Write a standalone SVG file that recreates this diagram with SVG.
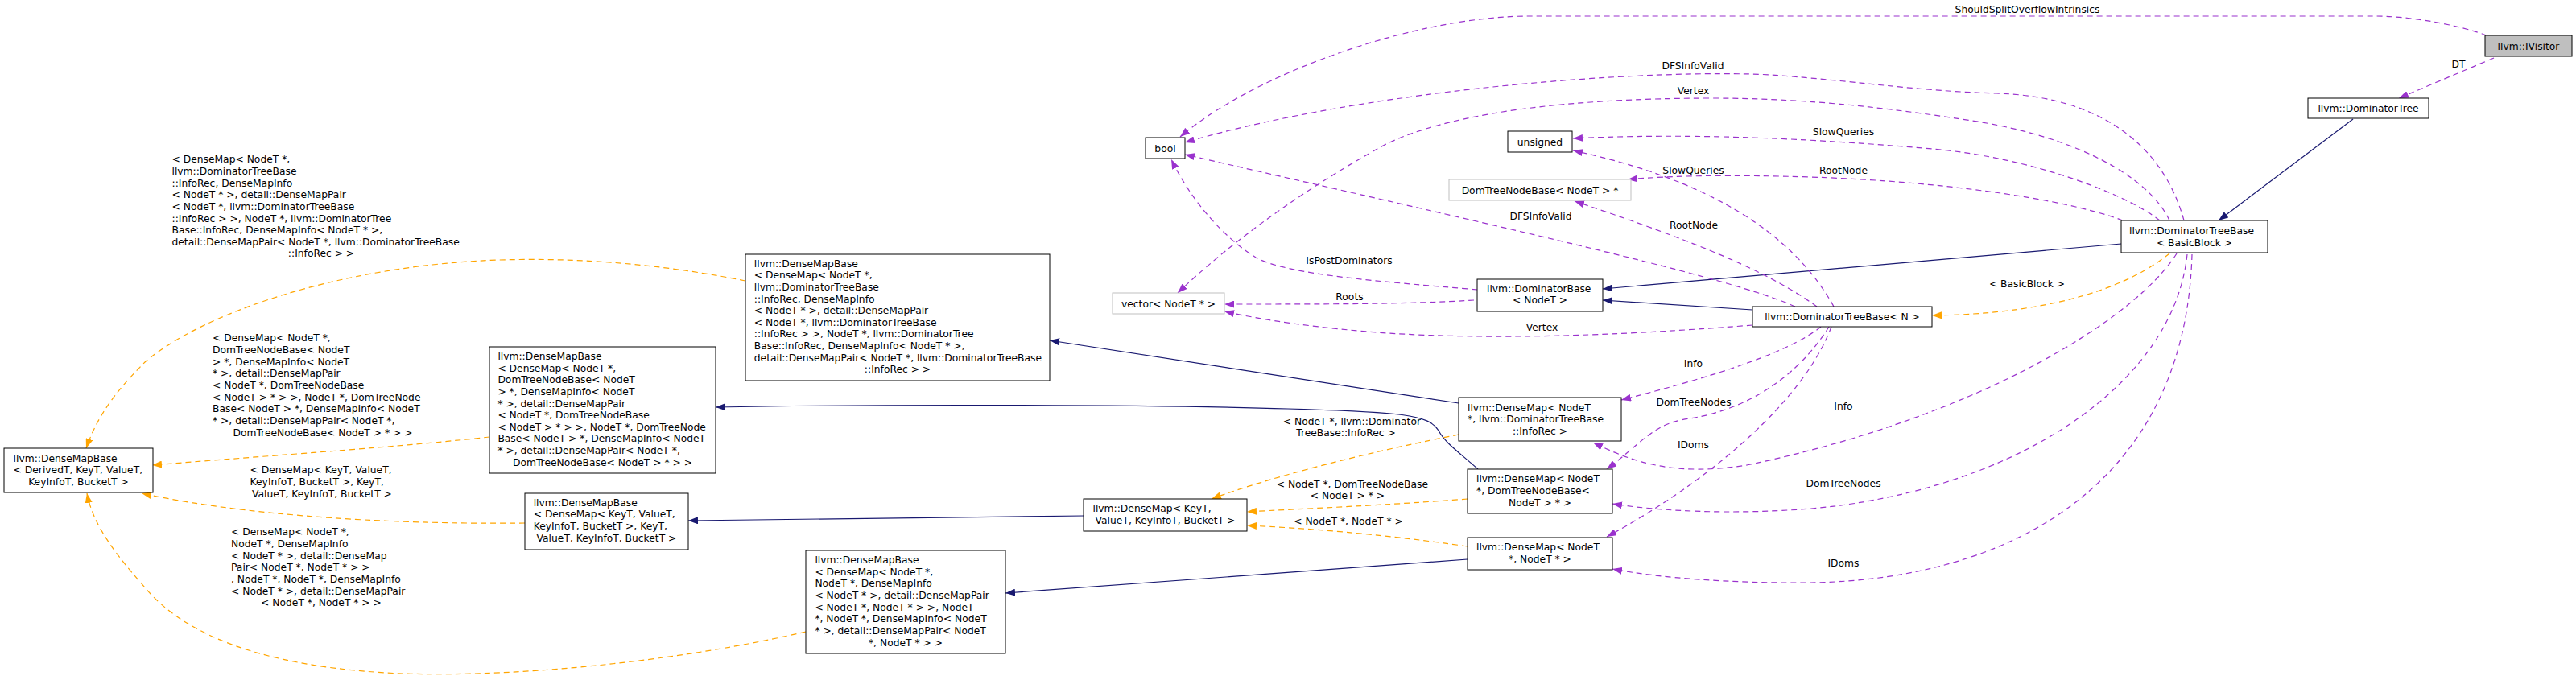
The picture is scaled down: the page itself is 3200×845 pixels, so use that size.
<svg xmlns="http://www.w3.org/2000/svg" width="3200" height="845" viewBox="0 0 3200 845">
<style>
text{font-family:"DejaVu Sans","Liberation Sans",sans-serif;font-size:12.3px;fill:#000}
.c{text-anchor:middle}
.n rect{fill:#fff;stroke:#000;stroke-width:1}
.g rect{stroke:#bfbfbf}
.hl rect{fill:#bfbfbf}
.e{fill:none;stroke-width:1.2}
.b{stroke:#191970;marker-end:url(#mb)}
.o{stroke:#ffa500;stroke-dasharray:7,5;marker-end:url(#mo)}
.p{stroke:#9a32cd;stroke-dasharray:7,5;marker-end:url(#mp)}
</style>
<defs>
<marker id="mb" viewBox="0 0 12 9" refX="12" refY="4.5" markerWidth="12" markerHeight="9" markerUnits="userSpaceOnUse" orient="auto"><path d="M0,0L12,4.5L0,9z" fill="#191970"/></marker>
<marker id="mo" viewBox="0 0 12 9" refX="12" refY="4.5" markerWidth="12" markerHeight="9" markerUnits="userSpaceOnUse" orient="auto"><path d="M0,0L12,4.5L0,9z" fill="#ffa500"/></marker>
<marker id="mp" viewBox="0 0 12 9" refX="12" refY="4.5" markerWidth="12" markerHeight="9" markerUnits="userSpaceOnUse" orient="auto"><path d="M0,0L12,4.5L0,9z" fill="#9a32cd"/></marker>
</defs>
<rect width="3200" height="845" fill="#fff"/>
<g id="edges">
<!-- inheritance (blue) -->
<path class="e b" d="M2923,148L2756,274"/>
<path class="e b" d="M2635,303L1991,359"/>
<path class="e b" d="M2177,385L1991,373"/>
<path class="e b" d="M1812,501L1304,423"/>
<path class="e b" d="M1836,583C1810,560 1795,550 1787,535C1775,515 1740,512 1600,508C1450,503 1100,502 889,506"/>
<path class="e b" d="M1823,695L1249,737"/>
<path class="e b" d="M1346,641L855,647"/>
<!-- template instantiation (orange) -->
<path class="e o" d="M926,349C820,328 720,320 620,323C420,330 250,390 180,450C140,490 120,520 107,557"/>
<g xml:space="preserve">
<text x="213.5" y="202.4"> &lt; DenseMap&lt; NodeT *,</text>
<text x="213.5" y="217"> llvm::DominatorTreeBase</text>
<text x="213.5" y="231.7">::InfoRec, DenseMapInfo</text>
<text x="213.5" y="246.3">&lt; NodeT * &gt;, detail::DenseMapPair</text>
<text x="213.5" y="260.9">&lt; NodeT *, llvm::DominatorTreeBase</text>
<text x="213.5" y="275.6">::InfoRec &gt; &gt;, NodeT *, llvm::DominatorTree</text>
<text x="213.5" y="290.2">Base::InfoRec, DenseMapInfo&lt; NodeT * &gt;,</text>
<text x="213.5" y="304.8"> detail::DenseMapPair&lt; NodeT *, llvm::DominatorTreeBase</text>
<text class="c" x="399" y="319.4">::InfoRec &gt; &gt;</text>
</g>
<path class="e o" d="M608,543C500,555 350,565 189,578"/>
<g xml:space="preserve">
<text x="264" y="424.4"> &lt; DenseMap&lt; NodeT *,</text>
<text x="264" y="439.1"> DomTreeNodeBase&lt; NodeT</text>
<text x="264" y="453.7"> &gt; *, DenseMapInfo&lt; NodeT</text>
<text x="264" y="468.4"> * &gt;, detail::DenseMapPair</text>
<text x="264" y="483.1">&lt; NodeT *, DomTreeNodeBase</text>
<text x="264" y="497.7">&lt; NodeT &gt; * &gt; &gt;, NodeT *, DomTreeNode</text>
<text x="264" y="512.4">Base&lt; NodeT &gt; *, DenseMapInfo&lt; NodeT</text>
<text x="264" y="527.1"> * &gt;, detail::DenseMapPair&lt; NodeT *,</text>
<text class="c" x="401" y="541.8">DomTreeNodeBase&lt; NodeT &gt; * &gt; &gt;</text>
</g>
<path class="e o" d="M652,650C480,652 300,640 176,613"/>
<g xml:space="preserve">
<text x="310.6" y="588.4">&lt; DenseMap&lt; KeyT, ValueT,</text>
<text x="310.6" y="603.1">KeyInfoT, BucketT &gt;, KeyT,</text>
<text class="c" x="400" y="617.7">ValueT, KeyInfoT, BucketT &gt;</text>
</g>
<path class="e o" d="M1001,785C850,820 650,842 500,837C330,830 230,790 180,730C140,685 115,650 108,613"/>
<g xml:space="preserve">
<text x="287" y="665.4"> &lt; DenseMap&lt; NodeT *,</text>
<text x="287" y="680.1"> NodeT *, DenseMapInfo</text>
<text x="287" y="694.7">&lt; NodeT * &gt;, detail::DenseMap</text>
<text x="287" y="709.4">Pair&lt; NodeT *, NodeT * &gt; &gt;</text>
<text x="287" y="724.1">, NodeT *, NodeT *, DenseMapInfo</text>
<text x="287" y="738.7">&lt; NodeT * &gt;, detail::DenseMapPair</text>
<text class="c" x="399" y="753.4">&lt; NodeT *, NodeT * &gt; &gt;</text>
</g>
<path class="e o" d="M1812,540C1700,562 1580,592 1505,620"/>
<text x="1765" y="527.5" style="text-anchor:end">&lt; NodeT *, llvm::Dominator</text>
<text class="c" x="1672" y="542">TreeBase::InfoRec &gt;</text>
<path class="e o" d="M1823,620C1720,628 1620,632 1549,636"/>
<text x="1774" y="605.5" style="text-anchor:end">&lt; NodeT *, DomTreeNodeBase</text>
<text class="c" x="1674" y="619.5">&lt; NodeT &gt; * &gt;</text>
<path class="e o" d="M1823,679C1720,664 1620,656 1549,653"/>
<text class="c" x="1675" y="651.5">&lt; NodeT *, NodeT * &gt;</text>
<path class="e o" d="M2695,315C2650,352 2560,390 2400,392"/>
<text class="c" x="2518" y="356.5">&lt; BasicBlock &gt;</text>
<!-- usage (purple) -->
<path class="e p" d="M3089,44C3060,33 3000,20 2950,20L1900,20C1760,20 1560,90 1466,170"/>
<text class="c" x="2518.5" y="16.4">ShouldSplitOverflowIntrinsics</text>
<path class="e p" d="M3098,72L2980,122"/>
<text class="c" x="3054" y="83.5">DT</text>
<path class="e p" d="M2713,274C2690,190 2620,120 2480,116C2380,113 2300,100 2200,93C2050,85 1700,110 1472,177"/>
<text class="c" x="2103" y="85.5">DFSInfoValid</text>
<path class="e p" d="M2695,274C2670,220 2580,170 2450,150C2350,135 2250,122 2126,122C1950,122 1800,140 1720,180C1620,235 1530,300 1463,364"/>
<text class="c" x="2103.5" y="116.5">Vertex</text>
<path class="e p" d="M2683,274C2640,240 2520,195 2400,185C2250,172 2100,165 1954,172"/>
<text class="c" x="2290" y="167.5">SlowQueries</text>
<path class="e p" d="M2637,274C2560,245 2400,225 2250,220C2150,217 2080,218 2022,223"/>
<text class="c" x="2290" y="216">RootNode</text>
<path class="e p" d="M2230,381C2150,345 1900,290 1472,192"/>
<text class="c" x="1914" y="272.5">DFSInfoValid</text>
<path class="e p" d="M1835,360C1720,350 1600,342 1560,320C1520,295 1480,250 1455,198"/>
<text class="c" x="1676" y="327.5">IsPostDominators</text>
<path class="e p" d="M1831,373C1750,378 1650,378 1521,378"/>
<text class="c" x="1676.5" y="372.5">Roots</text>
<path class="e p" d="M2177,404C2000,418 1850,422 1724,414C1640,408 1570,398 1521,387"/>
<text class="c" x="1915.5" y="411">Vertex</text>
<path class="e p" d="M2278,381Q2200,240 1954,187"/>
<text class="c" x="2103.5" y="215.5">SlowQueries</text>
<path class="e p" d="M2257,381C2200,340 2120,305 1956,250"/>
<text class="c" x="2104" y="283.5">RootNode</text>
<path class="e p" d="M2262,406C2220,440 2120,470 2014,497"/>
<text class="c" x="2103.5" y="456">Info</text>
<path class="e p" d="M2272,406C2245,450 2190,505 2100,520C2055,525 2040,550 1996,583"/>
<text class="c" x="2104" y="503.5">DomTreeNodes</text>
<path class="e p" d="M2275,406C2240,500 2120,600 1996,667"/>
<text class="c" x="2103.5" y="557">IDoms</text>
<path class="e p" d="M2704,315C2650,400 2450,520 2170,578C2080,592 2030,575 1979,550"/>
<text class="c" x="2290" y="508.5">Info</text>
<path class="e p" d="M2717,316C2700,480 2500,610 2250,632C2150,640 2060,635 2003,626"/>
<text class="c" x="2290" y="604.5">DomTreeNodes</text>
<path class="e p" d="M2723,316C2715,600 2500,720 2250,724C2150,725 2060,718 2003,707"/>
<text class="c" x="2290" y="703.5">IDoms</text>
</g>
<g id="nodes">
<g id="node-ivisitor" class="n hl"><rect x="3087" y="44" width="108" height="26"/><text class="c" x="3141" y="61.5">llvm::IVisitor</text></g>
<g id="node-dominatortree" class="n"><rect x="2867" y="122" width="150" height="25"/><text class="c" x="2942" y="139">llvm::DominatorTree</text></g>
<g id="node-dtb-basicblock" class="n"><rect x="2635" y="274" width="182" height="40"/><text x="2645" y="291">llvm::DominatorTreeBase</text><text class="c" x="2726" y="305.5">&lt; BasicBlock &gt;</text></g>
<g id="node-dtb-n" class="n"><rect x="2177" y="381" width="223" height="25"/><text class="c" x="2288.5" y="398">llvm::DominatorTreeBase&lt; N &gt;</text></g>
<g id="node-dominatorbase" class="n"><rect x="1835" y="347" width="156" height="40"/><text x="1847" y="363">llvm::DominatorBase</text><text class="c" x="1913" y="377">&lt; NodeT &gt;</text></g>
<g id="node-vector" class="n g"><rect x="1382" y="364" width="139" height="26"/><text class="c" x="1451.5" y="381.5">vector&lt; NodeT * &gt;</text></g>
<g id="node-bool" class="n"><rect x="1423" y="171" width="49" height="26"/><text class="c" x="1447.5" y="188.5">bool</text></g>
<g id="node-unsigned" class="n"><rect x="1873" y="163" width="80" height="26"/><text class="c" x="1913" y="180.5">unsigned</text></g>
<g id="node-domtreenodebase" class="n g"><rect x="1800" y="223" width="226" height="26"/><text class="c" x="1913" y="240.5">DomTreeNodeBase&lt; NodeT &gt; *</text></g>
<g id="node-densemap-inforec" class="n" xml:space="preserve"><rect x="1812" y="494" width="202" height="54"/><text x="1823" y="510.5">llvm::DenseMap&lt; NodeT</text><text x="1823" y="525"> *, llvm::DominatorTreeBase</text><text class="c" x="1913" y="539.5">::InfoRec &gt;</text></g>
<g id="node-densemap-domtreenode" class="n" xml:space="preserve"><rect x="1823" y="583" width="180" height="55"/><text x="1834" y="599">llvm::DenseMap&lt; NodeT</text><text x="1834" y="614"> *, DomTreeNodeBase&lt;</text><text class="c" x="1913" y="629">NodeT &gt; * &gt;</text></g>
<g id="node-densemap-nodet" class="n"><rect x="1823" y="668" width="180" height="40"/><text x="1834" y="684">llvm::DenseMap&lt; NodeT</text><text class="c" x="1913" y="699">*, NodeT * &gt;</text></g>
<g id="node-densemap-keyt" class="n"><rect x="1346" y="620" width="203" height="40"/><text x="1357.5" y="636">llvm::DenseMap&lt; KeyT,</text><text class="c" x="1447.5" y="651">ValueT, KeyInfoT, BucketT &gt;</text></g>
<g id="node-densemapbase-nodet" class="n" xml:space="preserve"><rect x="1001" y="684" width="248" height="128"/>
<text x="1012.4" y="700">llvm::DenseMapBase</text>
<text x="1012.4" y="714.7">&lt; DenseMap&lt; NodeT *,</text>
<text x="1012.4" y="729.3"> NodeT *, DenseMapInfo</text>
<text x="1012.4" y="744">&lt; NodeT * &gt;, detail::DenseMapPair</text>
<text x="1012.4" y="758.7">&lt; NodeT *, NodeT * &gt; &gt;, NodeT</text>
<text x="1012.4" y="773.3"> *, NodeT *, DenseMapInfo&lt; NodeT</text>
<text x="1012.4" y="788"> * &gt;, detail::DenseMapPair&lt; NodeT</text>
<text class="c" x="1125" y="802.7">*, NodeT * &gt; &gt;</text></g>
<g id="node-densemapbase-keyt" class="n" xml:space="preserve"><rect x="652" y="613" width="203" height="70"/>
<text x="662.7" y="628.7">llvm::DenseMapBase</text>
<text x="662.7" y="643.3">&lt; DenseMap&lt; KeyT, ValueT,</text>
<text x="662.7" y="658"> KeyInfoT, BucketT &gt;, KeyT,</text>
<text class="c" x="753.5" y="672.7">ValueT, KeyInfoT, BucketT &gt;</text></g>
<g id="node-densemapbase-domtreenode" class="n" xml:space="preserve"><rect x="608" y="431" width="281" height="157"/>
<text x="618.4" y="447">llvm::DenseMapBase</text>
<text x="618.4" y="461.6">&lt; DenseMap&lt; NodeT *,</text>
<text x="618.4" y="476.2"> DomTreeNodeBase&lt; NodeT</text>
<text x="618.4" y="490.9"> &gt; *, DenseMapInfo&lt; NodeT</text>
<text x="618.4" y="505.5"> * &gt;, detail::DenseMapPair</text>
<text x="618.4" y="520.1">&lt; NodeT *, DomTreeNodeBase</text>
<text x="618.4" y="534.7">&lt; NodeT &gt; * &gt; &gt;, NodeT *, DomTreeNode</text>
<text x="618.4" y="549.3">Base&lt; NodeT &gt; *, DenseMapInfo&lt; NodeT</text>
<text x="618.4" y="564"> * &gt;, detail::DenseMapPair&lt; NodeT *,</text>
<text class="c" x="748.5" y="578.6">DomTreeNodeBase&lt; NodeT &gt; * &gt; &gt;</text></g>
<g id="node-densemapbase-inforec" class="n" xml:space="preserve"><rect x="926" y="316" width="378" height="157"/>
<text x="936.8" y="331.7">llvm::DenseMapBase</text>
<text x="936.8" y="346.3">&lt; DenseMap&lt; NodeT *,</text>
<text x="936.8" y="360.9"> llvm::DominatorTreeBase</text>
<text x="936.8" y="375.6">::InfoRec, DenseMapInfo</text>
<text x="936.8" y="390.2">&lt; NodeT * &gt;, detail::DenseMapPair</text>
<text x="936.8" y="404.8">&lt; NodeT *, llvm::DominatorTreeBase</text>
<text x="936.8" y="419.4">::InfoRec &gt; &gt;, NodeT *, llvm::DominatorTree</text>
<text x="936.8" y="434.1">Base::InfoRec, DenseMapInfo&lt; NodeT * &gt;,</text>
<text x="936.8" y="448.7"> detail::DenseMapPair&lt; NodeT *, llvm::DominatorTreeBase</text>
<text class="c" x="1115" y="463.3">::InfoRec &gt; &gt;</text></g>
<g id="node-densemapbase-derived" class="n"><rect x="5" y="557" width="185" height="55"/>
<text x="16.6" y="573.7">llvm::DenseMapBase</text>
<text x="16.6" y="588.3">&lt; DerivedT, KeyT, ValueT,</text>
<text class="c" x="97.5" y="603">KeyInfoT, BucketT &gt;</text></g>
</g>
</svg>
